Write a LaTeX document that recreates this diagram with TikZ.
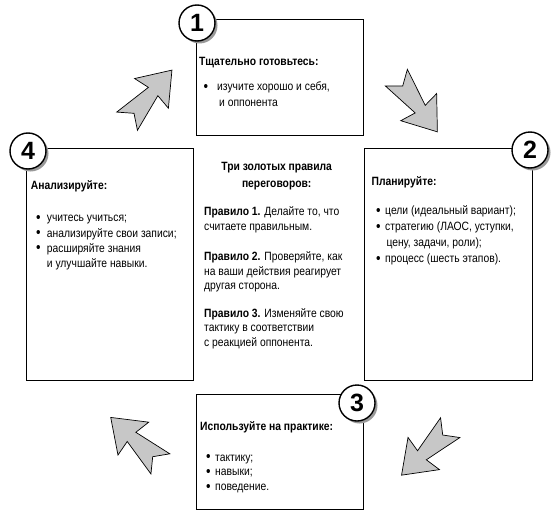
\documentclass[tikz,border=0pt]{standalone}
\usepackage{fontspec}
\setmainfont{Liberation Sans}[FakeStretch=0.86]
\newfontfamily\numfont{Liberation Sans}
\newcommand\bul[1]{\makebox[#1][l]{\raisebox{-0.6pt}{\fontsize{15}{15}\selectfont\textbullet}}}
\begin{document}
\begin{tikzpicture}[x=1pt,y=1pt,
  box/.style={draw, line width=1pt, fill=white, inner sep=0},
  num/.style={circle, draw, line width=1.4pt, fill=white, minimum size=36pt, inner sep=0,
    font=\numfont\bfseries\fontsize{25}{25}\selectfont},
  shade/.style={circle, fill=black!40, minimum size=36pt, inner sep=0},
  txt/.style={anchor=north west, inner sep=0, align=left},
  garrow/.style={fill=black!22, draw=black, line width=0.7pt, line join=miter}]
\useasboundingbox (0,0) rectangle (556,-519);
% block arrow shape
\newcommand\blockarrow[2]{%
  \draw[garrow, shift={#1}, rotate=#2]
    (0,0) -- (-10.5,13.8) -- (29,6.3) -- (26.5,22.5) -- (57.5,0)
    -- (26.5,-22.5) -- (29,-6.3) -- (-10.5,-13.8) -- cycle;}
\blockarrow{(134,-113.3)}{48.7}
\blockarrow{(402.7,-86)}{-52.9}
\blockarrow{(442.7,-435)}{-135.7}
\blockarrow{(152.7,-456.7)}{136.9}
% boxes
\node[box, minimum width=167pt, minimum height=115pt] (b1) at (279.5,-77.5) {};
\node[box, minimum width=168pt, minimum height=232pt] (b2) at (448,-264) {};
\node[box, minimum width=167pt, minimum height=115pt] (b3) at (279.5,-451.5) {};
\node[box, minimum width=167pt, minimum height=232pt] (b4) at (109.5,-264) {};
% number circles
\node[shade] (s1) at (199.5,-25.5) {};
\node[num] (n1) at (197,-23) {1};
\node[shade] (s2) at (532.5,-152.5) {};
\node[num] (n2) at (530,-150) {2};
\node[shade] (s3) at (359.5,-405.5) {};
\node[num] (n3) at (357,-403) {3};
\node[shade] (s4) at (30.5,-153.5) {};
\node[num] (n4) at (28,-151) {4};
% box 1
\node[txt, font=\fontsize{12}{15}\selectfont\bfseries] (t1) at (199,-55.2) {\strut Тщательно готовьтесь:};
\node[txt, font=\fontsize{12}{15.7}\selectfont] (l1) at (203.5,-79.5)
  {\strut\bul{13.5pt}изучите хорошо и себя,\\\hspace*{15.5pt}и оппонента};
% box 2
\node[txt, font=\fontsize{12}{15}\selectfont\bfseries] (t2) at (371.5,-175.2) {\strut Планируйте:};
\node[txt, font=\fontsize{12}{16}\selectfont] (l2) at (375.8,-203.5)
  {\strut\bul{9.2pt}цели (идеальный вариант);\\
   \bul{9.2pt}стратегию (ЛАОС, уступки,\\
   \hspace*{10.5pt}цену, задачи, роли);\\
   \bul{9.2pt}процесс (шесть этапов).};
% box 3
\node[txt, font=\fontsize{12}{15}\selectfont\bfseries] (t3) at (200,-420.2) {\strut Используйте на практике:};
\node[txt, font=\fontsize{12}{14.7}\selectfont] (l3) at (205.8,-450.8)
  {\strut\bul{9.2pt}тактику;\\
   \bul{9.2pt}навыки;\\
   \bul{9.2pt}поведение.};
% box 4
\node[txt, font=\fontsize{12}{15}\selectfont\bfseries] (t4) at (30.7,-178.5) {\strut Анализируйте:};
\node[txt, font=\fontsize{12}{15.3}\selectfont] (l4) at (35.8,-210.8)
  {\strut\bul{10.9pt}учитесь учиться;\\
   \bul{10.9pt}анализируйте свои записи;\\
   \bul{10.9pt}расширяйте знания\\
   \hspace*{10.9pt}и улучшайте навыки.};
% centre
\node[anchor=north, inner sep=0, align=center, font=\fontsize{12}{16.7}\selectfont\bfseries] (c0) at (276.7,-158.5)
  {\strut Три золотых правила\\переговоров:};
\node[txt, font=\fontsize{12}{15}\selectfont] (c1) at (204,-205.2)
  {\strut\textbf{Правило 1.} Делайте то, что\\считаете правильным.};
\node[txt, font=\fontsize{12}{14.5}\selectfont] (c2) at (204,-250.2)
  {\strut\textbf{Правило 2.} Проверяйте, как\\на ваши действия реагирует\\другая сторона.};
\node[txt, font=\fontsize{12}{14.5}\selectfont] (c3) at (204,-306.8)
  {\strut\textbf{Правило 3.} Изменяйте свою\\тактику в соответствии\\с реакцией оппонента.};
\end{tikzpicture}
\end{document}
